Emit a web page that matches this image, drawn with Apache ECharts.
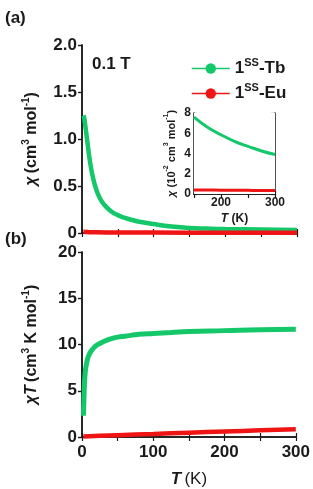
<!DOCTYPE html>
<html>
<head>
<meta charset="utf-8">
<script src="https://cdn.jsdelivr.net/npm/echarts@6/dist/echarts.min.js"></script>
<style>
  html, body { margin: 0; padding: 0; background: #fff; }
  #chart { width: 313px; height: 489px; }
</style>
</head>
<body>
<div id="chart"></div>
<script>
// (a) susceptibility chi vs T
const tempChi = [2, 2.5, 3, 4, 5, 6, 7, 8, 10, 12, 15, 20, 25, 30, 40, 50, 60, 70, 80, 100, 125, 150, 175, 200, 250, 300]
const chiTb = [1.25, 1.245, 1.23, 1.18, 1.12, 1.06, 1.0, 0.94, 0.82, 0.72, 0.6, 0.46, 0.37, 0.31, 0.235, 0.19, 0.16, 0.138, 0.12, 0.095, 0.07, 0.054, 0.047, 0.042, 0.036, 0.031]
const tempChiEu = [2, 5, 10, 20, 50, 100, 200, 300]
const chiEu = [0.012, 0.011, 0.009, 0.007, 0.005, 0.004, 0.0035, 0.003]

// inset: chi in 1e-2 units, 150-300 K
const tempInset = [150, 175, 200, 225, 250, 275, 300]
const insetTb = [7.6, 6.6, 5.85, 5.2, 4.7, 4.25, 3.9]
const insetEu = [0.4, 0.39, 0.38, 0.37, 0.36, 0.35, 0.35]

// (b) chiT vs T
const tempChiT = [2, 2.5, 3, 3.5, 4, 5, 6, 8, 10, 12, 15, 20, 25, 30, 40, 50, 60, 80, 100, 125, 150, 200, 250, 300]
const chiTTb = [2.3, 3.5, 4.8, 5.8, 6.5, 7.3, 7.8, 8.5, 8.9, 9.2, 9.5, 9.9, 10.1, 10.3, 10.6, 10.8, 10.9, 11.1, 11.2, 11.3, 11.4, 11.5, 11.6, 11.65]
const tempChiTEu = [2, 10, 25, 50, 100, 150, 200, 250, 300]
const chiTEu = [0.05, 0.08, 0.13, 0.2, 0.33, 0.47, 0.6, 0.72, 0.83]

const GREEN = '#14c86a'
const RED = '#f01515'
const INK = '#1a1a1a'
const FONT = '"Liberation Sans", Arial, sans-serif'

function pairs(xs, ys) {
  return xs.map((x, i) => [x, ys[i]])
}

const chart = echarts.init(document.getElementById('chart'), null, { renderer: 'canvas' })

const axisLine = { lineStyle: { color: INK, width: 1.5 } }
const tickIn = { inside: true, length: 4, lineStyle: { color: INK, width: 1.2 } }
const tickOut = { inside: false, length: 4, lineStyle: { color: INK, width: 1.2 } }
const bigLabel = { color: INK, fontSize: 17, fontWeight: 'bold', fontFamily: FONT }
const smallLabel = { color: INK, fontSize: 12, fontWeight: 'bold', fontFamily: FONT }

const supRich = (size) => ({
  n: { fontSize: size, fontWeight: 'bold', fontFamily: FONT, color: INK, lineHeight: size + 6 },
  i: { fontSize: size, fontWeight: 'bold', fontStyle: 'italic', fontFamily: FONT, color: INK, lineHeight: size + 6 },
  r: { fontSize: size, fontWeight: 'normal', fontFamily: FONT, color: INK, lineHeight: size + 6 },
  s: { fontSize: Math.round(size * 0.65), fontWeight: 'bold', fontFamily: FONT, color: INK, verticalAlign: 'top', lineHeight: Math.round(size * 0.65) }
})

function mirrorX(grid, min, max, interval) {
  return {
    type: 'value', gridIndex: grid, position: 'top', min, max, interval,
    axisLine, axisTick: tickIn, axisLabel: { show: false }, splitLine: { show: false }
  }
}
function mirrorY(grid, min, max, interval) {
  return {
    type: 'value', gridIndex: grid, position: 'right', min, max, interval,
    axisLine, axisTick: tickIn, axisLabel: { show: false }, splitLine: { show: false }
  }
}

chart.setOption({
  animation: false,
  backgroundColor: '#fff',
  grid: [
    { left: 82, top: 45, width: 215, height: 188 },
    { left: 82, top: 252, width: 215, height: 186 },
    { left: 194, top: 113, width: 81, height: 81, z: 5, show: true, backgroundColor: '#fff', borderWidth: 0 }
  ],
  legend: {
    data: ['Tb', 'Eu'],
    orient: 'vertical',
    left: 186,
    top: 52,
    itemWidth: 38,
    itemHeight: 13,
    itemGap: 5,
    lineStyle: { width: 1.5 },
    formatter: (name) => '{n|1}{s|SS}{n|-' + name + '}',
    textStyle: { rich: supRich(17) }
  },
  xAxis: [
    {
      type: 'value', gridIndex: 0, min: 0, max: 300, interval: 50,
      axisLine, axisTick: tickIn, axisLabel: { show: false }, splitLine: { show: false }
    },
    mirrorX(0, 0, 300, 50),
    {
      type: 'value', gridIndex: 1, min: 0, max: 300, interval: 50,
      axisLine, axisTick: tickIn,
      axisLabel: { ...bigLabel, margin: 7, interval: 1, formatter: (v) => (v % 100 === 0 ? String(v) : '') },
      splitLine: { show: false },
      name: '{i|T} {r|(K)}', nameLocation: 'middle', nameGap: 31,
      nameTextStyle: { rich: supRich(17) }
    },
    mirrorX(1, 0, 300, 50),
    {
      type: 'value', gridIndex: 2, min: 150, max: 300, interval: 50,
      axisLine, axisTick: { ...tickIn, length: 3 },
      axisLabel: { ...smallLabel, margin: 3, formatter: (v) => (v % 100 === 0 ? String(v) : '') },
      splitLine: { show: false },
      name: '{i|T} {n|(K)}', nameLocation: 'middle', nameGap: 16,
      nameTextStyle: { rich: supRich(12) }
    },
    mirrorX(2, 150, 300, 50)
  ],
  yAxis: [
    {
      type: 'value', gridIndex: 0, min: 0, max: 2, interval: 0.5,
      axisLine, axisTick: tickOut,
      axisLabel: { ...bigLabel, margin: 5, formatter: (v) => (v === 0 ? '0' : v.toFixed(1)) },
      splitLine: { show: false },
      name: '{i|χ} {n|(cm}{s|3}{n| mol}{s|-1}{n|)}', nameLocation: 'middle', nameGap: 39,
      nameTextStyle: { rich: supRich(16) }
    },
    mirrorY(0, 0, 2, 0.5),
    {
      type: 'value', gridIndex: 1, min: 0, max: 20, interval: 5,
      axisLine, axisTick: tickOut,
      axisLabel: { ...bigLabel, margin: 5 },
      splitLine: { show: false },
      name: '{i|χT} {n|(cm}{s|3}{n| K mol}{s|-1}{n|)}', nameLocation: 'middle', nameGap: 39,
      nameTextStyle: { rich: supRich(16) }
    },
    mirrorY(1, 0, 20, 5),
    {
      type: 'value', gridIndex: 2, min: 0, max: 8, interval: 2,
      axisLine, axisTick: { ...tickIn, length: 3 },
      axisLabel: { ...smallLabel, margin: 3 },
      splitLine: { show: false },
      name: '{i|χ} {n|(10}{s|-2}{n| cm}{s|3}{n| mol}{s|-1}{n|)}', nameLocation: 'middle', nameGap: 14,
      nameTextStyle: { rich: supRich(11) }
    },
    mirrorY(2, 0, 8, 2)
  ],
  graphic: [
    { type: 'text', left: 5, top: 10, style: { text: '(a)', font: 'bold 17px ' + FONT, fill: INK } },
    { type: 'text', left: 5, top: 231, style: { text: '(b)', font: 'bold 17px ' + FONT, fill: INK } },
    { type: 'text', left: 92, top: 56, style: { text: '0.1 T', font: 'bold 17px ' + FONT, fill: INK } }
  ],
  series: [
    {
      name: 'Tb', type: 'line', xAxisIndex: 0, yAxisIndex: 0,
      data: pairs(tempChi, chiTb), symbol: 'circle', symbolSize: 12, showSymbol: false, smooth: true,
      color: GREEN, lineStyle: { width: 4.5, color: GREEN }
    },
    {
      name: 'Eu', type: 'line', xAxisIndex: 0, yAxisIndex: 0,
      data: pairs(tempChiEu, chiEu), symbol: 'circle', symbolSize: 12, showSymbol: false, smooth: true,
      color: RED, lineStyle: { width: 4.5, color: RED }
    },
    {
      name: 'Tb', type: 'line', xAxisIndex: 2, yAxisIndex: 2,
      data: pairs(tempChiT, chiTTb), symbol: 'circle', showSymbol: false, smooth: true,
      color: GREEN, lineStyle: { width: 5, color: GREEN }
    },
    {
      name: 'Eu', type: 'line', xAxisIndex: 2, yAxisIndex: 2,
      data: pairs(tempChiTEu, chiTEu), symbol: 'circle', showSymbol: false, smooth: true,
      color: RED, lineStyle: { width: 4.5, color: RED }
    },
    {
      name: 'Tb', type: 'line', xAxisIndex: 4, yAxisIndex: 4, z: 6,
      data: pairs(tempInset, insetTb), symbol: 'circle', showSymbol: false, smooth: true,
      color: GREEN, lineStyle: { width: 3, color: GREEN }
    },
    {
      name: 'Eu', type: 'line', xAxisIndex: 4, yAxisIndex: 4, z: 6,
      data: pairs(tempInset, insetEu), symbol: 'circle', showSymbol: false, smooth: true,
      color: RED, lineStyle: { width: 3, color: RED }
    }
  ]
})
</script>
</body>
</html>
